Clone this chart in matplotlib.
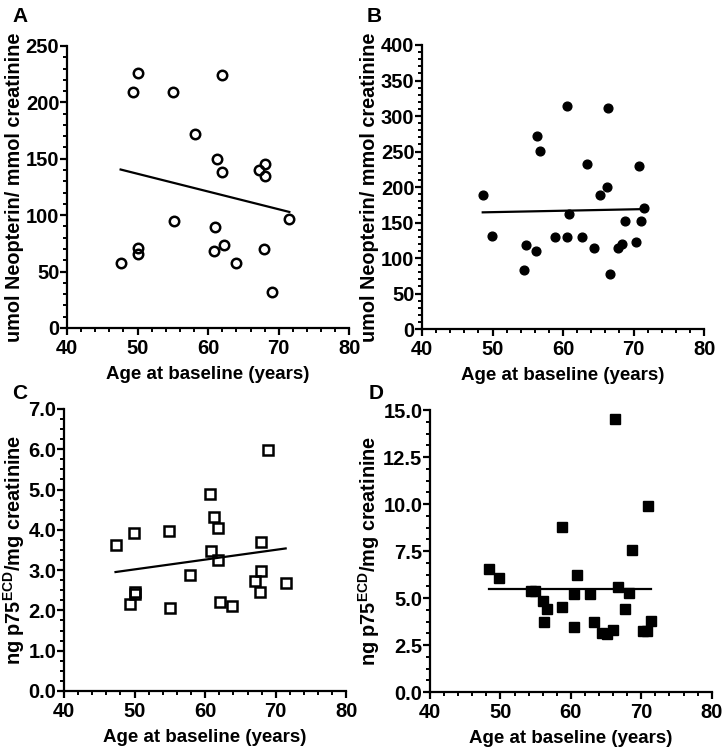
import numpy as np
import matplotlib
matplotlib.use("Agg")
import matplotlib.pyplot as plt
from matplotlib.ticker import MultipleLocator

plt.rcParams['font.family'] = ['Liberation Sans', 'DejaVu Sans']
plt.rcParams['font.weight'] = 'bold'
plt.rcParams['mathtext.fontset'] = 'custom'
plt.rcParams['mathtext.rm'] = 'Liberation Sans:bold'
plt.rcParams['mathtext.bf'] = 'Liberation Sans:bold'

# A: neopterin, open circles
age_a = [47.6, 49.4, 50.0, 50.0, 50.0, 55.0, 55.2, 58.1, 61.3, 62.0, 62.0,
         61.0, 60.8, 62.3, 64.0, 67.2, 68.1, 68.1, 67.9, 69.0, 71.5]
neo_a = [57.5, 209.6, 225.8, 70.8, 65.8, 209.6, 94.4, 172, 150, 138.4, 224,
         89.7, 68.2, 73.8, 57.3, 140.2, 145.2, 134.3, 70.2, 31.6, 96.5]
fit_a = (-1.574, 215.4)

# B: neopterin, filled circles
age_b = [48.6, 49.9, 54.4, 54.8, 56.3, 56.7, 56.2, 58.9, 60.6, 60.5, 60.9, 62.7,
         63.4, 64.4, 65.2, 66.2, 66.3, 66.7, 67.8, 68.4, 68.8, 70.4, 70.7, 71.1, 71.5]
neo_b = [188.3, 130.5, 83.6, 118.8, 272.3, 250.2, 110.3, 129.6, 314.6, 130, 162.4, 129.1,
         232.9, 114.1, 188.3, 199.5, 310.8, 77, 114.6, 119.7, 151.6, 122.5, 229.1, 152.1, 170]
fit_b = (0.2, 154.6)

# C: p75ECD, open squares
age_c = [47.3, 49.9, 50.0, 50.1, 49.4, 54.9, 55.0, 57.9, 60.7, 61.2, 61.8,
         60.8, 61.8, 62.1, 63.8, 67.9, 67.9, 67.1, 67.8, 68.9, 71.4]
p75_c = [3.63, 3.91, 2.45, 2.40, 2.15, 3.96, 2.06, 2.89, 4.90, 4.32, 4.04,
         3.48, 3.26, 2.20, 2.11, 3.70, 2.98, 2.73, 2.46, 5.97, 2.67]
fit_c = (0.0243, 1.803)

# D: p75ECD, filled squares
age_d = [48.4, 49.8, 54.3, 54.9, 56.1, 56.6, 56.2, 58.8, 58.8, 60.8, 60.5, 60.4, 62.7,
         63.3, 64.4, 65.1, 66.0, 66.2, 66.7, 68.2, 67.7, 68.7, 71.0, 70.2, 70.8, 71.4]
p75_d = [6.57, 6.07, 5.39, 5.39, 4.82, 4.43, 3.75, 8.80, 4.52, 6.21, 5.23, 3.48, 5.23,
         3.75, 3.13, 3.07, 3.30, 14.52, 5.59, 5.25, 4.43, 7.55, 9.89, 3.25, 3.25, 3.80]
fit_d = (0.0, 5.48)

xlabel = "Age at baseline (years)"
neo_label = "umol Neopterin/ mmol creatinine"
p75_label = r"ng p75$^{\mathrm{ECD}}$/mg creatinine"

fig = plt.figure(figsize=(7.24, 7.5), dpi=100)

# letter, axes rect, letter (x, y) px, data ..., marker, face, size, ylim, major, minor, label, format
panels = [
    ("A", [0.0925, 0.5627, 0.390, 0.376], (12, 7), age_a, neo_a, fit_a, 'o', 'none', 6.8, 250, 50, 10, neo_label, "{:.0f}"),
    ("B", [0.583, 0.5613, 0.3895, 0.3787], (367, 7), age_b, neo_b, fit_b, 'o', 'black', 6.3, 400, 50, 10, neo_label, "{:.0f}"),
    ("C", [0.0884, 0.0787, 0.390, 0.376], (12, 384), age_c, p75_c, fit_c, 's', 'none', 6.8, 7, 1, 0.25, p75_label, "{:.1f}"),
    ("D", [0.594, 0.0773, 0.389, 0.376], (369, 384), age_d, p75_d, fit_d, 's', 'black', 7.6, 15, 2.5, 0.625, p75_label, "{:.1f}"),
]

for letter, pos, lxy, xs, ys, fit, mk, fc, ms, ymax, ymaj, ymin_, ylab, fmt in panels:
    ax = fig.add_axes(pos)
    ax.plot(xs, ys, linestyle='none', marker=mk, markerfacecolor=fc,
            markeredgecolor='black', markeredgewidth=1.8 if fc == 'none' else 1.0,
            markersize=ms, clip_on=False, zorder=3)
    xf = np.array([min(xs), max(xs)])
    ax.plot(xf, fit[0] * xf + fit[1], color='black', lw=1.6, zorder=2)
    ax.set_xlim(40, 80)
    ax.set_ylim(0, ymax)
    ax.xaxis.set_major_locator(MultipleLocator(10))
    ax.xaxis.set_minor_locator(MultipleLocator(2))
    ax.yaxis.set_minor_locator(MultipleLocator(ymin_))
    yt = np.arange(0, ymax + ymaj / 2, ymaj)
    ax.set_yticks(yt)
    ax.set_yticklabels([fmt.format(v) for v in yt])
    for s in ['top', 'right']:
        ax.spines[s].set_visible(False)
    for s in ['left', 'bottom']:
        ax.spines[s].set_linewidth(1.6)
    ax.tick_params(which='major', length=5, width=1.6, labelsize=14.5)
    ax.tick_params(axis='y', which='major', pad=0.5)
    ax.tick_params(axis='x', which='major', pad=3)
    ax.tick_params(which='minor', length=3, width=1.4)
    ax.set_xlabel(xlabel, fontsize=13.5, fontweight='bold', labelpad=6)
    ax.set_ylabel(ylab, fontsize=14.3, fontweight='bold', labelpad=1)
    fig.text(lxy[0] / 724, 1 - lxy[1] / 750, letter, fontsize=15,
             fontweight='bold', ha='left', va='top')

fig.savefig("out.png", dpi=100)
